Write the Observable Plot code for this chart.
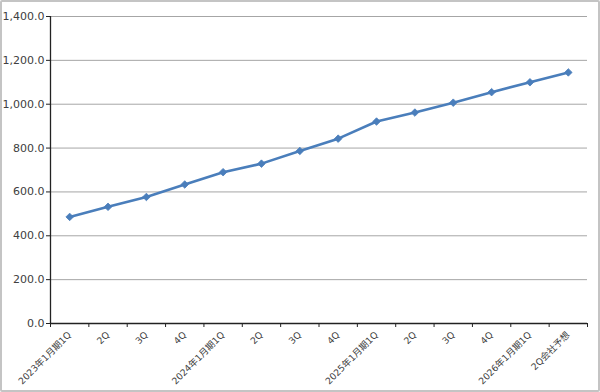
<!DOCTYPE html>
<html>
<head>
<meta charset="utf-8">
<script src="https://cdn.jsdelivr.net/npm/d3@7"></script>
<script src="https://cdn.jsdelivr.net/npm/@observablehq/plot@0.6"></script>
<style>
  html, body { margin: 0; padding: 0; background: #fff; }
  #wrap { position: relative; width: 600px; height: 392px; overflow: hidden; }
  #frame { position: absolute; left: 0; top: 0; width: 596px; height: 388px; border: 2px solid #c4c4c4; border-radius: 2px; pointer-events: none; }
</style>
</head>
<body>
<div id="wrap"><div id="frame"></div></div>
<script>
const categories = ["2023年1月期1Q","2Q","3Q","4Q","2024年1月期1Q","2Q","3Q","4Q","2025年1月期1Q","2Q","3Q","4Q","2026年1月期1Q","2Q会社予想"];
const values = [486, 532, 577, 634, 690, 729, 787, 843, 921, 962, 1007, 1055, 1100, 1145];
const yTicks = [0, 200, 400, 600, 800, 1000, 1200, 1400];

const data = categories.map((c, i) => ({i: i + 0.5, label: c, value: values[i]}));
const color = "#4a7ebb";
const font = "'DejaVu Sans', 'Noto Sans CJK JP', sans-serif";

const chart = Plot.plot({
  width: 600,
  height: 392,
  marginLeft: 50,
  marginRight: 13,
  marginTop: 16,
  marginBottom: 69,
  style: {fontFamily: font, background: "transparent", color: "#404040"},
  x: {domain: [0, categories.length], axis: null},
  y: {domain: [0, 1400], axis: null},
  marks: [
    Plot.gridY(yTicks.filter(d => d > 0), {stroke: "#a6a6a6", strokeOpacity: 1, strokeWidth: 1}),
    Plot.axisY({ticks: yTicks, tickSize: 4, tickPadding: 2, tickFormat: d3.format(",.1f"), fontSize: 11, fill: "#404040", stroke: "#222", label: null}),
    Plot.axisX({ticks: d3.range(categories.length + 1), tickSize: 4, tickFormat: () => null, stroke: "#222", label: null}),
    Plot.ruleX([0], {stroke: "#222", strokeWidth: 1.3}),
    Plot.ruleY([0], {stroke: "#222", strokeWidth: 1.3}),
    Plot.text(data, {x: "i", text: "label", frameAnchor: "bottom", dy: 12, dx: 2, rotate: -45, textAnchor: "end", fontSize: 9.2, fill: "#404040"}),
    Plot.line(data, {x: "i", y: "value", stroke: color, strokeWidth: 2.6}),
    Plot.dot(data, {x: "i", y: "value", symbol: "diamond2", r: 3.4, fill: color, stroke: color, strokeWidth: 0.8})
  ]
});
document.getElementById("wrap").prepend(chart);
</script>
</body>
</html>
